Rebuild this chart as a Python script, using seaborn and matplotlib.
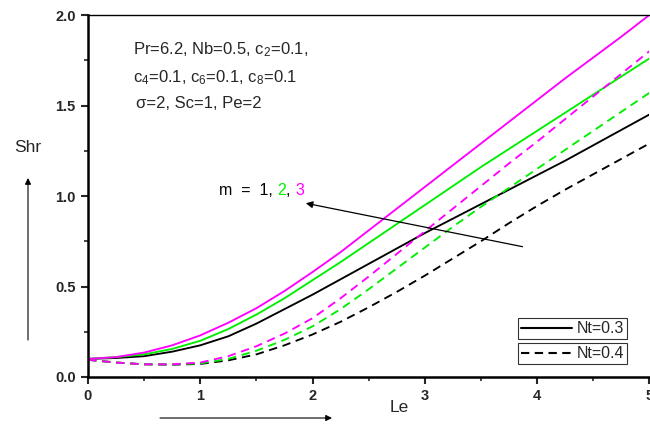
import numpy as np
import pandas as pd
import matplotlib
matplotlib.use("Agg")
import matplotlib.pyplot as plt
from matplotlib.lines import Line2D
from matplotlib.ticker import MultipleLocator
import seaborn as sns

# ---- data ----
le = [0.0, 0.25, 0.5, 0.75, 1.0, 1.25, 1.5, 1.75, 2.0, 2.25, 2.5,
      2.75, 3.0, 3.25, 3.5, 3.75, 4.0, 4.25, 4.5, 4.75, 5.0]
shr_m3_nt03 = [0.10, 0.11, 0.135, 0.175, 0.23, 0.30, 0.38, 0.475, 0.58, 0.69, 0.81,
               0.93, 1.05, 1.17, 1.29, 1.41, 1.53, 1.65, 1.765, 1.88, 2.00]
shr_m2_nt03 = [0.10, 0.11, 0.125, 0.155, 0.20, 0.265, 0.345, 0.435, 0.535, 0.635, 0.74,
               0.845, 0.95, 1.055, 1.16, 1.26, 1.36, 1.46, 1.56, 1.66, 1.76]
shr_m1_nt03 = [0.10, 0.105, 0.115, 0.14, 0.175, 0.225, 0.295, 0.375, 0.455, 0.54, 0.625,
               0.71, 0.795, 0.875, 0.955, 1.035, 1.115, 1.195, 1.28, 1.365, 1.45]
shr_m3_nt04 = [0.095, 0.08, 0.07, 0.07, 0.08, 0.115, 0.17, 0.24, 0.325, 0.435, 0.555,
               0.68, 0.805, 0.93, 1.055, 1.18, 1.30, 1.425, 1.55, 1.675, 1.80]
shr_m2_nt04 = [0.095, 0.08, 0.07, 0.07, 0.075, 0.10, 0.145, 0.205, 0.28, 0.375, 0.485,
               0.60, 0.715, 0.83, 0.94, 1.045, 1.15, 1.255, 1.36, 1.465, 1.57]
shr_m1_nt04 = [0.095, 0.08, 0.07, 0.068, 0.072, 0.092, 0.125, 0.175, 0.235, 0.305, 0.385,
               0.47, 0.56, 0.655, 0.75, 0.85, 0.945, 1.035, 1.12, 1.205, 1.29]
m_values = [1, 2, 3]
nt_values = [0.3, 0.4]
x_ticks = [0, 1, 2, 3, 4, 5]
y_ticks = [0.0, 0.5, 1.0, 1.5, 2.0]
y_tick_labels = ["0.0", "0.5", "1.0", "1.5", "2.0"]

series = {
    (1, 0.3): shr_m1_nt03, (2, 0.3): shr_m2_nt03, (3, 0.3): shr_m3_nt03,
    (1, 0.4): shr_m1_nt04, (2, 0.4): shr_m2_nt04, (3, 0.4): shr_m3_nt04,
}
rows = []
for (m, nt), ys in series.items():
    for x, y in zip(le, ys):
        rows.append({"Le": x, "Shr": y, "m": m, "Nt": nt})
df = pd.DataFrame(rows)

sns.set_style("white")
plt.rcParams["font.family"] = ["Liberation Sans", "DejaVu Sans"]
plt.rcParams["mathtext.fontset"] = "custom"
plt.rcParams["mathtext.rm"] = "Liberation Sans"
plt.rcParams["mathtext.default"] = "regular"

fig = plt.figure(figsize=(6.5, 4.32), dpi=100)
ax = fig.add_axes([88 / 650, 1 - 377 / 432, 1 - 88 / 650 - 0.001, (377 - 15) / 432])

palette = {1: "#000000", 2: "#00EE00", 3: "#FF00FF"}
dashes = {0.3: "", 0.4: (4.5, 3)}
sns.lineplot(data=df, x="Le", y="Shr", hue="m", style="Nt", palette=palette,
             dashes=dashes, linewidth=1.35, legend=False, ax=ax, sort=True)

ax.set_xlim(0, 5)
ax.set_ylim(0, 2.0)
ax.set_xticks(x_ticks)
ax.set_yticks(y_ticks)
ax.set_yticklabels(y_tick_labels)
ax.xaxis.set_minor_locator(MultipleLocator(0.5))
ax.yaxis.set_minor_locator(MultipleLocator(0.25))
ax.tick_params(which="major", direction="out", length=5, width=1.5,
               labelsize=10.5, pad=4, bottom=True, left=True)
ax.tick_params(which="minor", direction="out", length=3, width=1.2,
               bottom=True, left=True)
for lab in ax.get_xticklabels() + ax.get_yticklabels():
    lab.set_fontweight("bold")
ax.set_xlabel("")
ax.set_ylabel("")
for s in ["left", "bottom"]:
    ax.spines[s].set_linewidth(1.8)
    ax.spines[s].set_color("black")
ax.spines["top"].set_linewidth(1.0)
ax.spines["top"].set_color("black")
ax.spines["right"].set_visible(False)

# parameters text
fs = 12
ax.text(0.40, 1.81, "Pr=6.2, Nb=0.5, c$_2$=0.1,", fontsize=fs, va="center")
ax.text(0.40, 1.655, "c$_4$=0.1, c$_6$=0.1, c$_8$=0.1", fontsize=fs, va="center")
ax.text(0.43, 1.51, "\u03c3=2, Sc=1, Pe=2", fontsize=fs, va="center")

# m label with colored parts
t1 = ax.text(1.17, 1.03, "m  =  1, ", fontsize=11.5, va="center", color="black")
t2 = ax.annotate("2", xycoords=t1, xy=(1, 0), va="bottom", fontsize=11.5, color="#00EE00")
t3 = ax.annotate(", ", xycoords=t2, xy=(1, 0), va="bottom", fontsize=11.5, color="black")
t4 = ax.annotate("3", xycoords=t3, xy=(1, 0), va="bottom", fontsize=11.5, color="#FF00FF")

ax.annotate("", xy=(1.94, 0.96), xytext=(3.87, 0.72),
            arrowprops=dict(arrowstyle="-|>", color="black", lw=0.9,
                            mutation_scale=10, shrinkA=0, shrinkB=0))

# legends: two separate boxes
h1 = Line2D([], [], color="black", lw=1.5, label="Nt=0.3")
h2 = Line2D([], [], color="black", lw=1.5, linestyle=(0, (4, 2.6)), label="Nt=0.4")
leg_kw = dict(fontsize=11.5, frameon=True, fancybox=False, handlelength=3.2,
              handletextpad=0.3, borderpad=0.2, borderaxespad=0, edgecolor="black",
              handleheight=0.5)
leg1 = ax.legend(handles=[h1], loc="upper right",
                 bbox_to_anchor=((628 - 88) / 562, (377 - 318) / 362), **leg_kw)
leg1.get_frame().set_linewidth(0.8)
ax.add_artist(leg1)
leg2 = ax.legend(handles=[h2], loc="upper right",
                 bbox_to_anchor=((628 - 88) / 562, (377 - 343) / 362), **leg_kw)
leg2.get_frame().set_linewidth(0.8)

# axis labels with arrows (figure coordinates)
fig.text(28 / 650, 1 - 148 / 432, "Shr", fontsize=12.5, ha="center", va="center")
fig.text(399 / 650, 1 - 408 / 432, "Le", fontsize=12.5, ha="center", va="center")
ax.annotate("", xy=(28 / 650, 1 - 178 / 432), xytext=(28 / 650, 1 - 340 / 432),
            xycoords="figure fraction", textcoords="figure fraction",
            arrowprops=dict(arrowstyle="-|>", color="black", lw=0.8,
                            mutation_scale=9, shrinkA=0, shrinkB=0))
ax.annotate("", xy=(332 / 650, 1 - 418 / 432), xytext=(160 / 650, 1 - 418 / 432),
            xycoords="figure fraction", textcoords="figure fraction",
            arrowprops=dict(arrowstyle="-|>", color="black", lw=0.8,
                            mutation_scale=9, shrinkA=0, shrinkB=0))

fig.savefig("out.png", dpi=100)
